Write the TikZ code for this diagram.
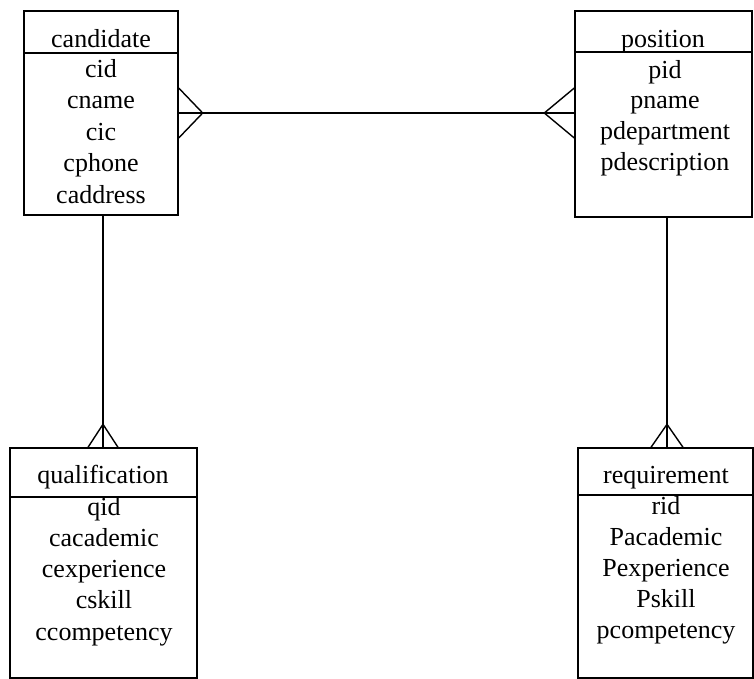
\documentclass[tikz,border=0pt]{standalone}
\usepackage{fontspec}
\setmainfont{Liberation Serif}
\usetikzlibrary{calc}
\begin{document}
\begin{tikzpicture}[x=1pt,y=-1pt,
  entbox/.style={draw, line width=1.4pt, inner sep=0pt, rectangle},
  lnk/.style={line width=1.4pt},
  lbl/.style={font=\fontsize{26}{31}\selectfont, inner sep=0pt, anchor=base},
]
\useasboundingbox (0,0) rectangle (754,678);

% candidate
\node[entbox, minimum width=154pt, minimum height=42pt]  (candH) at (101,32) {};
\node[entbox, minimum width=154pt, minimum height=162pt] (candB) at (101,134) {};
\node[lbl] (candT) at (101,47) {candidate};
\foreach \t [count=\i from 0] in {cid,cname,cic,cphone,caddress}
  \node[lbl] (cand\i) at (101,77+31.5*\i) {\t};

% position
\node[entbox, minimum width=177pt, minimum height=41pt]  (posH) at (663.5,31.5) {};
\node[entbox, minimum width=177pt, minimum height=165pt] (posB) at (663.5,134.5) {};
\node[lbl] (posT) at (663,47) {position};
\foreach \t [count=\i from 0] in {pid,pname,pdepartment,pdescription}
  \node[lbl] (pos\i) at (665,78+30.7*\i) {\t};

% qualification
\node[entbox, minimum width=187pt, minimum height=49pt]  (qualH) at (103.5,472.5) {};
\node[entbox, minimum width=187pt, minimum height=181pt] (qualB) at (103.5,587.5) {};
\node[lbl] (qualT) at (103,483) {qualification};
\foreach \t [count=\i from 0] in {qid,cacademic,cexperience,cskill,ccompetency}
  \node[lbl] (qual\i) at (104,515+31.3*\i) {\t};

% requirement
\node[entbox, minimum width=175pt, minimum height=47pt]  (reqH) at (665.5,471.5) {};
\node[entbox, minimum width=175pt, minimum height=183pt] (reqB) at (665.5,586.5) {};
\node[lbl] (reqT) at (666,483) {requirement};
\foreach \t [count=\i from 0] in {rid,Pacademic,Pexperience,Pskill,pcompetency}
  \node[lbl] (req\i) at (666,514+31*\i) {\t};

% candidate -- position (many to many)
\coordinate (linkY) at (0,113);
\draw[lnk] (candB.east |- linkY) -- (posB.west |- linkY);
\draw[lnk] ($(candB.east |- linkY)+(0,-25)$) -- ($(candB.east |- linkY)+(24,0)$) -- ($(candB.east |- linkY)+(0,25)$);
\draw[lnk] ($(posB.west |- linkY)+(0,-25)$) -- ($(posB.west |- linkY)+(-30,0)$) -- ($(posB.west |- linkY)+(0,25)$);

% candidate -- qualification
\coordinate (cq) at (103,0);
\draw[lnk] (candB.south -| cq) -- (qualH.north -| cq);
\draw[lnk] ($(qualH.north -| cq)+(-15,0)$) -- ($(qualH.north -| cq)+(0,-23)$) -- ($(qualH.north -| cq)+(15,0)$);

% position -- requirement
\coordinate (pr) at (667,0);
\draw[lnk] (posB.south -| pr) -- (reqH.north -| pr);
\draw[lnk] ($(reqH.north -| pr)+(-16,0)$) -- ($(reqH.north -| pr)+(0,-23)$) -- ($(reqH.north -| pr)+(16,0)$);
\end{tikzpicture}
\end{document}
